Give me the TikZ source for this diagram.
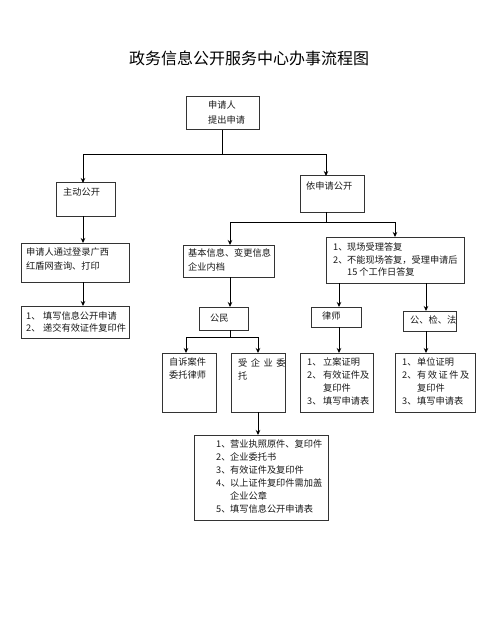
\documentclass[tikz,border=0pt]{standalone}
\usepackage{fontspec}
\setmainfont{Noto Sans CJK SC}
\usetikzlibrary{arrows.meta}
\newcommand\numitem[2]{\makebox[#1pt][l]{#2、}}
\newcommand\bx[5]{\node[box,minimum width=#4pt,minimum height=#5pt] (#1) at (#2,#3) {};}
\begin{document}
\begin{tikzpicture}[x=1pt,y=-1pt,
  box/.style={draw=black!80,line width=1pt,inner sep=0pt,outer sep=0pt,anchor=north west},
  txt/.style={inner sep=0pt,anchor=north west,align=left,text=black!90},
  conn/.style={line width=1pt,black},
  arr/.style={conn,-{Stealth[length=5pt,width=4.5pt]}}]
\fill[white] (0,0) rectangle (500,636);
\useasboundingbox (0,0) rectangle (500,636);

\node[inner sep=0pt,font=\fontsize{16}{18}\selectfont] (title) at (249,58) {政务信息公开服务中心办事流程图};

% boxes
\bx{b1}{186}{97}{73}{33}
\bx{zd}{56}{183}{59}{33}
\bx{ys}{300}{176}{64}{36}
\bx{wb}{21}{243}{108}{39}
\bx{tx}{21}{306}{108}{32}
\bx{jb}{183}{245}{91}{32}
\bx{xc}{326}{237}{138}{46}
\bx{gm}{199}{307}{49}{23}
\bx{ls}{311}{307}{50}{20}
\bx{gjf}{403}{311}{53}{20}
\bx{zs}{162}{353}{54}{59}
\bx{qy}{231}{353}{54}{59}
\bx{la}{300}{353}{73}{59}
\bx{dw}{395}{353}{80}{59}
\bx{bt}{194}{435}{134}{85}

% texts
\node[txt,font=\fontsize{9.2}{15}\selectfont] (b1t) at (208,101) {申请人\\提出申请};
\node[txt,font=\fontsize{9.2}{13}\selectfont] (zdt) at (63,188) {主动公开};
\node[txt,font=\fontsize{9.2}{13}\selectfont] (yst) at (306,182) {依申请公开};
\node[txt,font=\fontsize{9.2}{14}\selectfont] (wbt) at (26,248) {申请人通过登录广西\\红盾网查询、打印};
\node[txt,font=\fontsize{9.2}{12.5}\selectfont] (txt1) at (26,311) {\numitem{17}{1}填写信息公开申请\\\numitem{17}{2}递交有效证件复印件};
\node[txt,font=\fontsize{9.2}{14}\selectfont] (jbt) at (188,248) {基本信息、变更信息\\企业内档};
\node[txt,font=\fontsize{9.2}{12.5}\selectfont] (xct) at (333,243) {\numitem{14}{1}现场受理答复\\\numitem{14}{2}不能现场答复，受理申请后\\\hspace{14pt}15 个工作日答复};
\node[txt,font=\fontsize{9.2}{13}\selectfont] (gmt) at (210,314) {公民};
\node[txt,font=\fontsize{9.2}{13}\selectfont] (lst) at (322,312) {律师};
\node[txt,font=\fontsize{9.2}{13}\selectfont] (gjft) at (410,316) {公、检、法};
\node[txt,font=\fontsize{9.2}{12.5}\selectfont] (zst) at (169,358) {自诉案件\\委托律师};
\node[txt,font=\fontsize{9.2}{13}\selectfont] (qyt) at (238,358) {受\hspace{3.5pt}企\hspace{3.5pt}业\hspace{3.5pt}委\\托};
\node[txt,font=\fontsize{9.2}{13}\selectfont] (lat) at (307,358) {\numitem{16}{1}立案证明\\\numitem{16}{2}有效证件及\\\hspace{16pt}复印件\\\numitem{16}{3}填写申请表};
\node[txt,font=\fontsize{9.2}{13}\selectfont] (dwt) at (402,358) {\numitem{15}{1}单位证明\\\numitem{15}{2}有\hspace{1.5pt}效\hspace{1.5pt}证\hspace{1.5pt}件\hspace{1.5pt}及\\\hspace{15pt}复印件\\\numitem{15}{3}填写申请表};
\node[txt,font=\fontsize{9.2}{13}\selectfont] (btt) at (216,440) {\numitem{14}{1}营业执照原件、复印件\\\numitem{14}{2}企业委托书\\\numitem{14}{3}有效证件及复印件\\\numitem{14}{4}以上证件复印件需加盖\\\hspace{14pt}企业公章\\\numitem{14}{5}填写信息公开申请表};

% column and junction coordinates
\coordinate (cA) at (83,0);
\coordinate (cC) at (326,0);
\coordinate (cD) at (230,0);
\coordinate (cE) at (395,0);
\coordinate (cF) at (339,0);
\coordinate (cG) at (426,0);
\coordinate (cH) at (186,0);
\coordinate (cI) at (258,0);
\coordinate (j1) at (222.5,155);
\coordinate (j2) at (326,222);
\coordinate (j3) at (230,337);

% connectors
\draw[conn] (b1.south) -- (j1);
\draw[arr] (j1) -| (zd.north -| cA);
\draw[arr] (j1) -| (ys.north -| cC);
\draw[arr] (zd.south -| cA) -- (wb.north -| cA);
\draw[arr] (wb.south -| cA) -- (tx.north -| cA);
\draw[conn] (ys.south -| cC) -- (j2);
\draw[arr] (j2) -| (jb.north -| cD);
\draw[arr] (j2) -| (xc.north -| cE);
\draw[arr] (jb.south -| cD) -- (gm.north -| cD);
\draw[conn] (gm.south -| cD) -- (j3);
\draw[arr] (j3) -| (zs.north -| cH);
\draw[arr] (j3) -| (qy.north -| cI);
\draw[arr] (xc.south -| cF) -- (ls.north -| cF);
\draw[arr] (xc.south -| cG) -- (gjf.north -| cG);
\draw[arr] (ls.south -| cF) -- (la.north -| cF);
\draw[arr] (gjf.south -| cG) -- (dw.north -| cG);
\draw[arr] (qy.south -| cI) -- (bt.north -| cI);
\end{tikzpicture}
\end{document}
